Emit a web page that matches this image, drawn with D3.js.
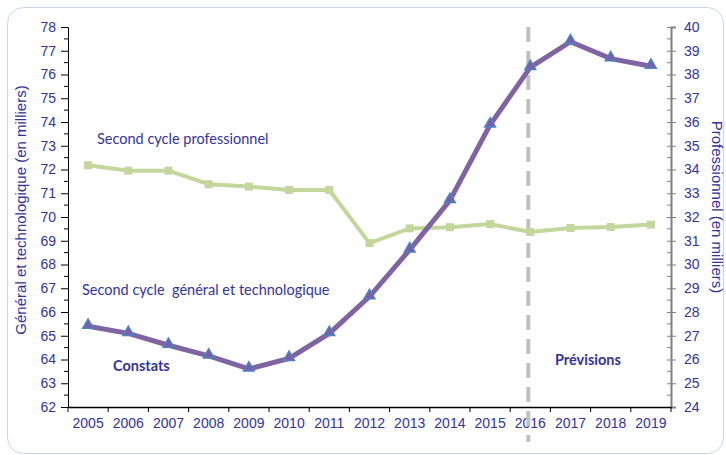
<!DOCTYPE html>
<html>
<head>
<meta charset="utf-8">
<script src="https://cdn.jsdelivr.net/npm/d3@7"></script>
<style>
  body { margin: 0; background: #fff; }
  svg text { font-family: "Liberation Sans", Arial, sans-serif; }
</style>
</head>
<body>
<div id="chart"></div>
<script>
// years on the x axis
var years = ['2005', '2006', '2007', '2008', '2009', '2010', '2011', '2012',
  '2013', '2014', '2015', '2016', '2017', '2018', '2019'];

// second cycle general et technologique (left axis, milliers)
var generalValues = [65.4, 65.1, 64.6, 64.15, 63.6, 64.05, 65.1, 66.65,
  68.62, 70.7, 73.88, 76.3, 77.38, 76.67, 76.35];

// second cycle professionnel (right axis, milliers)
var proValues = [34.18, 33.95, 33.95, 33.38, 33.28, 33.14, 33.14, 30.9,
  31.52, 31.57, 31.7, 31.37, 31.54, 31.58, 31.68];

var leftTicks = d3.range(62, 79, 1);
var rightTicks = d3.range(24, 41, 1);

var width = 726, height = 455;
var margin = { top: 27, right: 55, bottom: 48, left: 68 };
var plotW = width - margin.left - margin.right,
  plotH = height - margin.top - margin.bottom;

var textColor = '#33339a';

var svg = d3.select('#chart')
  .append('svg')
  .attr('width', width)
  .attr('height', height);

// outer rounded frame
svg.append('rect')
  .attr('x', 7.5).attr('y', 7.5)
  .attr('width', width - 10).attr('height', height - 9)
  .attr('rx', 16)
  .attr('fill', 'none')
  .attr('stroke', '#c9d6ea')
  .attr('stroke-width', 1);

var g = svg.append('g')
  .attr('transform', 'translate(' + margin.left + ',' + margin.top + ')');

var xScale = d3.scaleBand().domain(years).range([0, plotW]);
var xMid = function (d) { return xScale(d) + xScale.bandwidth() / 2; };

var yLeft = d3.scaleLinear().domain([62, 78]).range([plotH, 0]);
var yRight = d3.scaleLinear().domain([24, 40]).range([plotH, 0]);

// minor ticks (half units)
var minorLeft = d3.range(62.5, 78, 1);
g.selectAll('minorLeft')
  .data(minorLeft)
  .enter()
  .append('line')
  .attr('x1', -4).attr('x2', 0)
  .attr('y1', function (d) { return yLeft(d); })
  .attr('y2', function (d) { return yLeft(d); })
  .attr('stroke', '#000');

g.selectAll('minorRight')
  .data(minorLeft.map(function (d) { return d - 38; }))
  .enter()
  .append('line')
  .attr('x1', plotW - 4).attr('x2', plotW)
  .attr('y1', function (d) { return yRight(d); })
  .attr('y2', function (d) { return yRight(d); })
  .attr('stroke', '#808080');

// left axis
var leftAxis = g.append('g')
  .call(d3.axisLeft(yLeft).tickValues(leftTicks).tickSize(7).tickPadding(5).tickFormat(d3.format('d')));
leftAxis.select('.domain').attr('stroke', '#000');
leftAxis.selectAll('.tick line').attr('stroke', '#000');
leftAxis.selectAll('text')
  .attr('fill', textColor)
  .style('font-size', '14px');

// right axis
var rightAxis = g.append('g')
  .attr('transform', 'translate(' + plotW + ',0)')
  .call(d3.axisRight(yRight).tickValues(rightTicks).tickSize(5).tickPadding(8).tickFormat(d3.format('d')));
rightAxis.select('.domain').attr('stroke', '#808080').attr('stroke-width', 2);
rightAxis.selectAll('.tick line').attr('stroke', '#808080').attr('x1', -4);
rightAxis.selectAll('text')
  .attr('fill', textColor)
  .style('font-size', '14px');

// bottom axis, ticks between categories
var bottomAxis = g.append('g')
  .attr('transform', 'translate(0,' + plotH + ')')
  .call(d3.axisBottom(xScale).tickSize(0).tickPadding(11));
bottomAxis.select('.domain').attr('stroke', '#000').attr('stroke-width', 1.5);
bottomAxis.selectAll('text')
  .attr('fill', textColor)
  .style('font-size', '14px');

g.selectAll('xBoundTicks')
  .data(years.concat(['end']))
  .enter()
  .append('line')
  .attr('x1', function (d, i) { return i * xScale.step(); })
  .attr('x2', function (d, i) { return i * xScale.step(); })
  .attr('y1', plotH)
  .attr('y2', plotH + 5)
  .attr('stroke', '#000');

// dashed separator at 2016
g.append('line')
  .attr('x1', xMid('2016') - 2).attr('x2', xMid('2016') - 2)
  .attr('y1', 0).attr('y2', plotH + 35)
  .attr('stroke', '#c0c0c0')
  .attr('stroke-width', 4)
  .attr('stroke-dasharray', '15,9');

// professionnel line
var proLine = d3.line()
  .x(function (d, i) { return xMid(years[i]); })
  .y(function (d) { return yRight(d); });

g.append('path')
  .datum(proValues)
  .attr('d', proLine)
  .attr('fill', 'none')
  .attr('stroke', '#c3d69b')
  .attr('stroke-width', 4);

g.selectAll('proMarks')
  .data(proValues)
  .enter()
  .append('rect')
  .attr('x', function (d, i) { return xMid(years[i]) - 4; })
  .attr('y', function (d) { return yRight(d) - 4; })
  .attr('width', 8).attr('height', 8)
  .attr('fill', '#c3d69b');

// general line
var genLine = d3.line()
  .x(function (d, i) { return xMid(years[i]); })
  .y(function (d) { return yLeft(d); });

g.append('path')
  .datum(generalValues)
  .attr('d', genLine)
  .attr('fill', 'none')
  .attr('stroke', '#8064a2')
  .attr('stroke-width', 5);

var tri = d3.symbol().type(d3.symbolTriangle).size(50);
g.selectAll('genMarks')
  .data(generalValues)
  .enter()
  .append('path')
  .attr('d', tri)
  .attr('transform', function (d, i) {
    return 'translate(' + xMid(years[i]) + ',' + (yLeft(d) - 1) + ')';
  })
  .attr('fill', '#7a5fa8')
  .attr('stroke', '#4f81bd')
  .attr('stroke-width', 1.5);

// annotations
var anno = svg.append('g')
  .attr('fill', textColor)
  .style('font-family', 'Lato, "Open Sans", sans-serif');

anno.append('text')
  .attr('x', 97).attr('y', 144)
  .style('font-family', 'Lato, sans-serif')
  .style('font-size', '14.5px')
  .text('Second cycle professionnel');

anno.append('text')
  .attr('x', 82).attr('y', 295)
  .style('font-family', 'Lato, sans-serif')
  .style('font-size', '14.5px')
  .attr('xml:space', 'preserve')
  .text('Second cycle  g\u00e9n\u00e9ral et technologique');

anno.append('text')
  .attr('x', 113).attr('y', 371)
  .style('font-family', 'Lato, sans-serif')
  .style('font-size', '14.5px')
  .style('font-weight', 'bold')
  .text('Constats');

anno.append('text')
  .attr('x', 555).attr('y', 365)
  .style('font-family', 'Lato, sans-serif')
  .style('font-size', '14.5px')
  .style('font-weight', 'bold')
  .text('Pr\u00e9visions');

// axis titles
svg.append('text')
  .attr('transform', 'translate(26,' + (margin.top + plotH / 2 - 7) + ') rotate(-90)')
  .attr('text-anchor', 'middle')
  .attr('fill', textColor)
  .style('font-size', '15px')
  .text('G\u00e9n\u00e9ral et technologique (en milliers)');

svg.append('text')
  .attr('transform', 'translate(712,' + (margin.top + plotH / 2 - 10) + ') rotate(90)')
  .attr('text-anchor', 'middle')
  .attr('fill', textColor)
  .style('font-size', '15px')
  .text('Professionnel (en milliers)');
</script>
</body>
</html>
